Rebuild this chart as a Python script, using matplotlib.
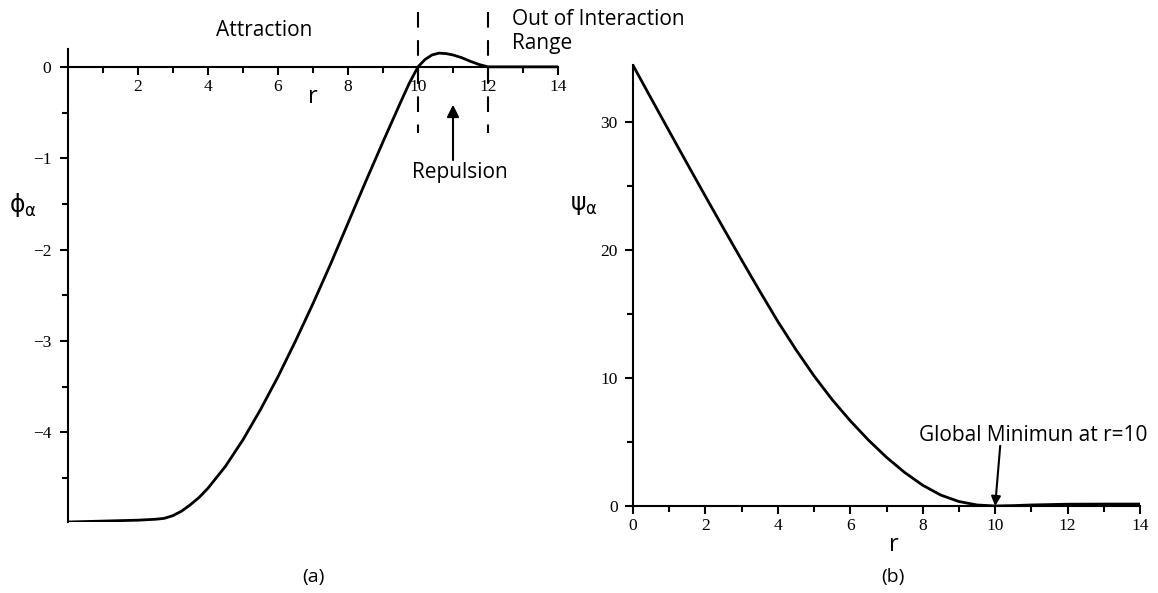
import numpy as np
import matplotlib
matplotlib.use("Agg")
import matplotlib.pyplot as plt

plt.rcParams['font.family'] = ['Open Sans', 'DejaVu Sans']
plt.rcParams['mathtext.fontset'] = 'dejavusans'

# pair potential phi_a(r)
r_phi = [0, 1, 2, 2.5, 2.75, 3, 3.25, 3.5, 3.75, 4, 4.5, 5, 5.5, 6, 6.5, 7,
         7.5, 8, 8.5, 9, 9.5, 9.75, 10, 10.2, 10.4, 10.6, 10.8, 11, 11.25,
         11.5, 11.75, 12, 13, 14]
phi = [-4.98, -4.97, -4.96, -4.95, -4.94, -4.91, -4.86, -4.79, -4.71, -4.61,
       -4.37, -4.08, -3.75, -3.39, -3.00, -2.59, -2.16, -1.71, -1.26, -0.82,
       -0.39, -0.18, 0.0, 0.08, 0.13, 0.15, 0.145, 0.13, 0.10, 0.06, 0.025,
       0.0, 0.0, 0.0]

# energy psi_a(r)
r_psi = [0, 0.5, 1, 1.5, 2, 2.5, 3, 3.5, 4, 4.5, 5, 5.5, 6, 6.5, 7, 7.5, 8,
         8.5, 9, 9.5, 10, 10.5, 11, 11.5, 12, 13, 14]
psi = [34.4, 31.82, 29.25, 26.7, 24.17, 21.67, 19.2, 16.77, 14.4, 12.2, 10.15,
       8.3, 6.65, 5.15, 3.8, 2.62, 1.62, 0.85, 0.35, 0.08, 0.0, 0.03, 0.08,
       0.11, 0.14, 0.15, 0.15]

left_xticks = [2, 4, 6, 8, 10, 12, 14]
left_yticks = [0, -1, -2, -3, -4]
right_xticks = [0, 2, 4, 6, 8, 10, 12, 14]
right_yticks = [0, 10, 20, 30]

serif = 'Liberation Serif'
tick_fs = 12.5
note_fs = 15
W, H = 1158, 593
fig = plt.figure(figsize=(W / 100, H / 100), dpi=100)


def style_axes(ax):
    ax.spines['top'].set_visible(False)
    ax.spines['right'].set_visible(False)
    for s in ('left', 'bottom'):
        ax.spines[s].set_linewidth(1.5)
    ax.tick_params(which='major', direction='out', length=6, width=1.5, pad=3)
    ax.tick_params(which='minor', direction='out', length=4, width=1.5)


# ---- (a) ----
ax1 = fig.add_axes([68 / W, 1 - 522 / H, 490 / W, 510 / H])
ax1.plot(r_phi, phi, color='black', lw=2)
ax1.set_xlim(0, 14)
ax1.set_ylim(-4.98, 0.6)
style_axes(ax1)
ax1.spines['bottom'].set_position(('data', 0))
ax1.spines['left'].set_bounds(-4.98, 0.2)
ax1.set_xticks(left_xticks, labels=[str(t) for t in left_xticks],
               fontfamily=serif, fontsize=tick_fs)
ax1.set_xticks(np.arange(1, 14, 2), minor=True)
ax1.set_yticks(left_yticks, labels=['0'] + ['\u2212%d' % -t for t in left_yticks[1:]],
               fontfamily=serif, fontsize=tick_fs)
ax1.set_yticks(np.arange(-4.5, 0, 1), minor=True)
ax1.tick_params(axis='y', pad=6)

for xv in (10, 12):
    ax1.plot([xv, xv], [0.6, -0.72], color='black', lw=1.5,
             dashes=(7.5, 6), clip_on=False)

ax1.text(5.6, 0.40, 'Attraction', ha='center', va='center', fontsize=note_fs)
ax1.text(12.69, 0.52, 'Out of Interaction', ha='left', va='center', fontsize=note_fs)
ax1.text(12.69, 0.25, 'Range', ha='left', va='center', fontsize=note_fs)
ax1.text(7.0, -0.33, 'r', ha='center', va='center', fontsize=17)
ax1.annotate('', xy=(11.0, -0.415), xytext=(11.0, -1.02),
             arrowprops=dict(arrowstyle='-|>', color='black', lw=1.5,
                             mutation_scale=18, shrinkA=0, shrinkB=0))
ax1.text(11.2, -1.16, 'Repulsion', ha='center', va='center', fontsize=note_fs)
ax1.text(-1.3, -1.51, r'$\mathrm{\phi_{\alpha}}$', ha='center', va='center',
         fontsize=17)

# ---- (b) ----
ax2 = fig.add_axes([633 / W, 1 - 506 / H, 507 / W, 442 / H])
ax2.plot(r_psi, psi, color='black', lw=2)
ax2.set_xlim(0, 14)
ax2.set_ylim(0, 34.5)
style_axes(ax2)
ax2.spines['left'].set_bounds(0, 34.4)
ax2.set_xticks(right_xticks, labels=[str(t) for t in right_xticks],
               fontfamily=serif, fontsize=tick_fs)
ax2.set_xticks(np.arange(1, 14, 2), minor=True)
ax2.set_yticks(right_yticks, labels=[str(t) for t in right_yticks],
               fontfamily=serif, fontsize=tick_fs)
ax2.set_yticks([5, 15, 25], minor=True)
ax2.tick_params(axis='y', pad=5)

ax2.text(7.2, -3.05, 'r', ha='center', va='center', fontsize=17)
ax2.text(-1.35, 23.5, r'$\mathrm{\psi_{\alpha}}$', ha='center', va='center',
         fontsize=17)
ax2.annotate('', xy=(10.0, 0.0), xytext=(10.14, 4.7),
             arrowprops=dict(arrowstyle='-|>', color='black', lw=1.5,
                             mutation_scale=14, shrinkA=0, shrinkB=0))
ax2.text(11.05, 5.47, 'Global Minimun at r=10', ha='center', va='center',
         fontsize=note_fs)

fig.text(313 / W, 1 - 577 / H, '(a)', ha='center', va='center', fontsize=14)
fig.text(893 / W, 1 - 577 / H, '(b)', ha='center', va='center', fontsize=14)

fig.savefig('out.png', dpi=100)
